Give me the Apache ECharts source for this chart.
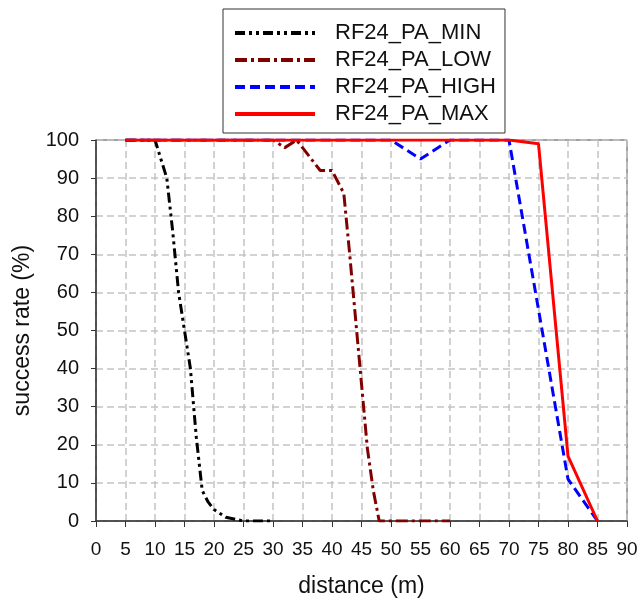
<!DOCTYPE html>
<html>
<head>
<meta charset="utf-8">
<script src="https://cdn.jsdelivr.net/npm/echarts@6/dist/echarts.min.js"></script>
<style>
    html, body { margin: 0; padding: 0; background: #fff; }
    #chart_success { width: 639px; height: 599px; }
</style>
</head>
<body>
<div id="chart_success"></div>
<script>

// Chart data
// ------------------------------

var seriesNames = ['RF24_PA_MIN', 'RF24_PA_LOW', 'RF24_PA_HIGH', 'RF24_PA_MAX'];

// distance (m) / success rate (%) per PA level
var distMin = [5, 10, 12, 13, 14, 15, 16, 17, 18, 19, 20, 22, 25, 28, 30];
var rateMin = [100, 100, 90, 76, 60, 50, 40, 22, 8, 5, 3, 1, 0, 0, 0];

var distLow = [5, 30, 32, 34, 38, 40, 42, 43, 44, 45, 46, 47, 48, 50, 55, 60];
var rateLow = [100, 100, 98, 100, 92, 92, 86, 70, 53, 36, 19, 8, 0, 0, 0, 0];

var distHigh = [5, 50, 55, 60, 70, 80, 85];
var rateHigh = [100, 100, 95, 100, 100, 11, 0];

var distMax = [5, 70, 75, 80, 85];
var rateMax = [100, 100, 99, 17, 0];


// Setup module
// ------------------------------

var EchartsSuccessRate = function() {

    // pair distances with rates
    var toPoints = function(xs, ys) {
        var pts = [];
        for (var i = 0; i < xs.length; i++) {
            pts.push([xs[i], ys[i]]);
        }
        return pts;
    };

    var _successRateChart = function() {
        if (typeof echarts == 'undefined') {
            console.warn('Warning - echarts.min.js is not loaded.');
            return;
        }

        // Define element
        var success_element = document.getElementById('chart_success');
        if (!success_element) {
            return;
        }

        // Initialize chart
        var success_chart = echarts.init(success_element);

        var fontFamily = '"Liberation Sans", Arial, sans-serif';

        success_chart.setOption({

            animation: false,

            textStyle: {
                fontFamily: fontFamily,
                color: '#111'
            },

            // Setup grid (fixed box, no auto shrink)
            grid: {
                left: 96,
                right: 12,
                top: 140,
                bottom: 78,
                outerBoundsMode: 'none',
                show: true,
                borderColor: '#444',
                borderWidth: 1
            },

            // Add legend (line sample only, no marker)
            legend: {
                data: seriesNames,
                orient: 'vertical',
                left: 223,
                top: 9,
                padding: [13, 9, 8, 10],
                itemWidth: 80,
                itemHeight: 20,
                itemGap: 5,
                borderColor: '#333',
                borderWidth: 1,
                backgroundColor: '#fff',
                itemStyle: {
                    color: 'transparent',
                    borderWidth: 0
                },
                lineStyle: {
                    width: 4
                },
                textStyle: {
                    fontFamily: fontFamily,
                    fontSize: 22,
                    lineHeight: 20,
                    color: '#111',
                    padding: [0, 0, 0, 15]
                }
            },

            // Horizontal axis
            xAxis: {
                type: 'value',
                min: 0,
                max: 90,
                interval: 5,
                name: 'distance (m)',
                nameLocation: 'middle',
                nameGap: 54,
                nameTextStyle: {
                    fontFamily: fontFamily,
                    fontSize: 23,
                    color: '#111'
                },
                axisLine: {
                    onZero: false,
                    lineStyle: { color: '#333', width: 1.5 }
                },
                axisTick: {
                    show: true,
                    length: 6,
                    lineStyle: { color: '#333' }
                },
                axisLabel: {
                    margin: 19,
                    fontSize: 19,
                    color: '#111',
                    fontFamily: fontFamily
                },
                splitLine: {
                    show: true,
                    lineStyle: {
                        color: '#c4c4c4',
                        width: 1.5,
                        type: [7, 4]
                    }
                }
            },

            // Vertical axis
            yAxis: {
                type: 'value',
                min: 0,
                max: 100,
                interval: 10,
                name: 'success rate (%)',
                nameLocation: 'middle',
                nameGap: 62,
                nameTextStyle: {
                    fontFamily: fontFamily,
                    fontSize: 23,
                    color: '#111'
                },
                axisLine: {
                    show: true,
                    lineStyle: { color: '#333', width: 1.5 }
                },
                axisTick: {
                    show: true,
                    length: 5,
                    lineStyle: { color: '#333' }
                },
                axisLabel: {
                    margin: 17,
                    fontSize: 20,
                    color: '#111',
                    fontFamily: fontFamily
                },
                splitLine: {
                    show: true,
                    lineStyle: {
                        color: '#c4c4c4',
                        width: 1.5,
                        type: [7, 4]
                    }
                }
            },

            // Add series
            series: [{
                name: seriesNames[0],
                type: 'line',
                symbol: 'none',
                data: toPoints(distMin, rateMin),
                lineStyle: { color: '#000', width: 3, type: [10, 4, 3, 4, 3, 4] },
                itemStyle: { color: '#000' }
            }, {
                name: seriesNames[1],
                type: 'line',
                symbol: 'none',
                data: toPoints(distLow, rateLow),
                lineStyle: { color: '#800000', width: 3, type: [12, 4, 3, 4] },
                itemStyle: { color: '#800000' }
            }, {
                name: seriesNames[2],
                type: 'line',
                symbol: 'none',
                data: toPoints(distHigh, rateHigh),
                lineStyle: { color: '#0000ff', width: 3, type: [10, 5] },
                itemStyle: { color: '#0000ff' }
            }, {
                name: seriesNames[3],
                type: 'line',
                symbol: 'none',
                data: toPoints(distMax, rateMax),
                lineStyle: { color: '#ff0000', width: 3, type: 'solid' },
                itemStyle: { color: '#ff0000' }
            }]
        });
    };

    return {
        init: function() {
            _successRateChart();
        }
    }
}();


// Initialize module
// ------------------------------

EchartsSuccessRate.init();
</script>
</body>
</html>
